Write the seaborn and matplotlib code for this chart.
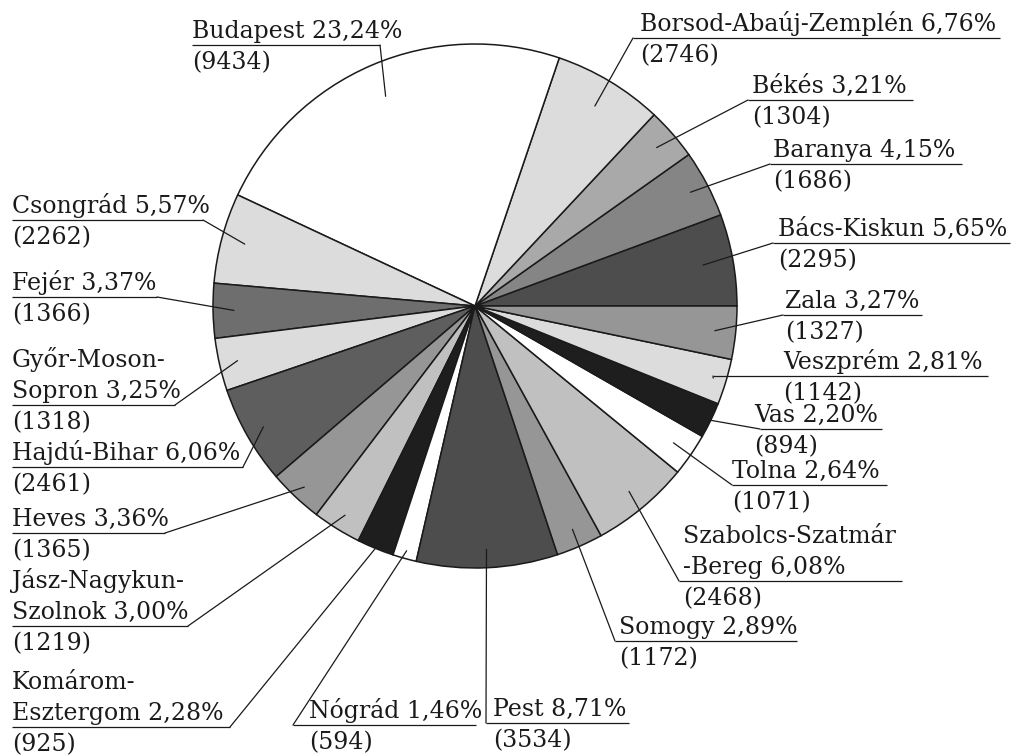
import numpy as np
import matplotlib
matplotlib.use("Agg")
import matplotlib.pyplot as plt
import seaborn as sns

# ---------------- data (alphabetical, counter-clockwise from 3 o'clock) ----------------
names = ["Bács-Kiskun", "Baranya", "Békés", "Borsod-Abaúj-Zemplén", "Budapest",
         "Csongrád", "Fejér", "Győr-Moson-\nSopron", "Hajdú-Bihar", "Heves",
         "Jász-Nagykun-\nSzolnok", "Komárom-\nEsztergom", "Nógrád", "Pest", "Somogy",
         "Szabolcs-Szatmár\n-Bereg", "Tolna", "Vas", "Veszprém", "Zala"]
counts = [2295, 1686, 1304, 2746, 9434, 2262, 1366, 1318, 2461, 1365,
          1219, 925, 594, 3534, 1172, 2468, 1071, 894, 1142, 1327]
percents = ["5,65", "4,15", "3,21", "6,76", "23,24", "5,57", "3,37", "3,25", "6,06", "3,36",
            "3,00", "2,28", "1,46", "8,71", "2,89", "6,08", "2,64", "2,20", "2,81", "3,27"]

# ---------------- styles ----------------
fills = ["#4d4d4d", "#858585", "#a9a9a9", "#dcdcdc", "#ffffff",
         "#dcdcdc", "#6e6e6e", "#dcdcdc", "#5e5e5e", "#969696",
         "#c0c0c0", "#1e1e1e", "#ffffff", "#4d4d4d", "#969696",
         "#c0c0c0", "#ffffff", "#1e1e1e", "#dcdcdc", "#969696"]

# label layout in image pixels: text x, underline y, underline x0, x1, leader side, leader radius
layout = [
    (778, 243, 773, 1010, "L", 0.885),
    (773, 164, 770, 962, "L", 0.93),
    (752, 100, 748, 913, "L", 0.92),
    (640, 38, 633, 1000, "L", 0.89),
    (192, 45, 192, 380, "R", 0.87),
    (12, 220, 12, 203, "R", 0.91),
    (12, 297, 12, 157, "R", 0.92),
    (12, 405, 12, 175, "R", 0.93),
    (12, 467, 12, 243, "R", 0.93),
    (12, 533, 12, 165, "R", 0.95),
    (12, 626, 12, 188, "R", 0.94),
    (12, 727, 12, 230, "R", 1.0),
    (309, 725, 293, 476, "L", 0.97),
    (493, 723, 486, 629, "L", 0.93),
    (619, 641, 615, 797, "L", 0.93),
    (683, 581, 679, 902, "L", 0.92),
    (732, 485, 732, 887, "L", 0.92),
    (754, 429, 760, 882, "L", 1.0),
    (783, 376, 713, 988, "L", 0.95),
    (785, 315, 783, 922, "L", 0.92),
]

W, H = 1016, 756
cx, cy, R = 475, H - 306, 262
ink = "#1a1a1a"

sns.set_theme(style="white")
plt.rcParams["font.family"] = ["DejaVu Serif", "DejaVu Sans"]

fig = plt.figure(figsize=(W / 100, H / 100), dpi=100)
ax = fig.add_axes([0, 0, 1, 1])

wedges, _ = ax.pie(counts, colors=fills, startangle=0, counterclock=True,
                   center=(cx, cy), radius=R,
                   wedgeprops=dict(edgecolor=ink, linewidth=1.1))

fs = 17.0
line_h = 31
for w, name, cnt, pct, (tx, uy, x0, x1, side, rf) in zip(wedges, names, counts, percents, layout):
    lines = name.split("\n")
    lines[-1] = lines[-1] + " " + pct + "%"
    yb = H - uy
    # name lines above the underline
    for k, s in enumerate(reversed(lines)):
        ax.text(tx, yb + 7 + k * line_h, s, fontsize=fs, color=ink,
                ha="left", va="baseline")
    ax.text(tx, yb - 24, "(%d)" % cnt, fontsize=fs, color=ink,
            ha="left", va="baseline")
    # underline
    ax.plot([x0, x1], [yb, yb], color=ink, lw=0.9, solid_capstyle="butt")
    # leader into the wedge
    mid = np.deg2rad((w.theta1 + w.theta2) / 2)
    px = cx + rf * R * np.cos(mid)
    py = cy + rf * R * np.sin(mid)
    sx = x0 if side == "L" else x1
    ax.plot([sx, px], [yb, py], color=ink, lw=0.9)

ax.set_xlim(0, W)
ax.set_ylim(0, H)
ax.set_aspect("equal")
ax.axis("off")

fig.savefig("out.png", dpi=100, facecolor="white")
